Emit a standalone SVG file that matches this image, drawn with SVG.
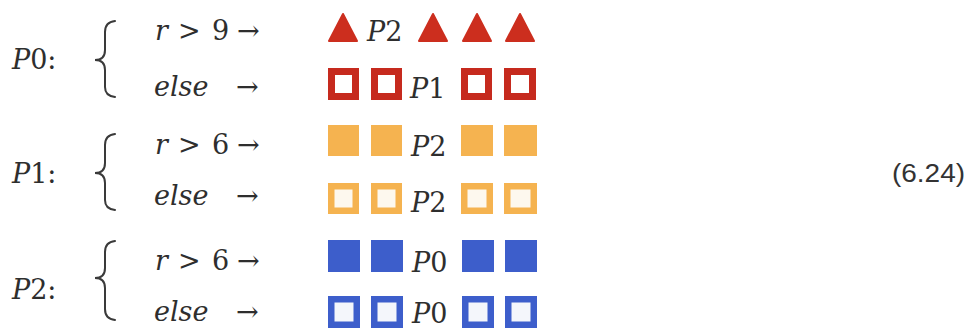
<svg xmlns="http://www.w3.org/2000/svg" width="972" height="330" viewBox="0 0 972 330">
<style>
  .t { font-family: "DejaVu Serif", "Liberation Serif", serif; font-size: 27px; fill: #2e2e2e; }
  .i { font-style: italic; }
  .brace { fill: none; stroke: #3a3a3a; stroke-width: 2; stroke-linecap: round; }
  .tri { fill: #cc2e1e; stroke: #cc2e1e; stroke-width: 2; stroke-linejoin: round; }
  .rs { fill: #c62a1e; }
  .rh { fill: #ffffff; stroke: #c62a1e; stroke-width: 7; }
  .os { fill: #f5b350; }
  .oh { fill: #fdf8ee; stroke: #f5b350; stroke-width: 6.5; }
  .bs { fill: #3d5ecb; }
  .bh { fill: #f4f6fb; stroke: #3d5ecb; stroke-width: 6.5; }
  .eq { font-family: "Liberation Sans", "Open Sans", sans-serif; font-size: 25px; fill: #333; }
</style>
<rect width="972" height="330" fill="#ffffff"/>

<g id="P0">
  <text class="t" x="12" y="69"><tspan class="i">P</tspan>0:</text>
  <path class="brace" d="M115,21 Q105,22 105,32 L105,50 Q105,60 95,60 Q105,60 105,70 L105,87 Q105,96 115,97"/>
  <text class="t" y="40"><tspan class="i" x="155">r</tspan><tspan x="178">&gt;</tspan><tspan x="212">9</tspan><tspan x="237">→</tspan></text>
  <text class="t" y="96"><tspan class="i" x="154">else</tspan><tspan x="236">→</tspan></text>
  <g id="row-P0-r9">
    <polygon class="tri" points="329,41 343,14 357,41"/>
    <text class="t i" x="367" y="41">P<tspan font-style="normal">2</tspan></text>
    <polygon class="tri" points="419,41 433,14 447,41"/>
    <polygon class="tri" points="463,41 477,14 491,41"/>
    <polygon class="tri" points="506,41 520,14 534,41"/>
  </g>
  <g id="row-P0-else">
    <rect class="rh" x="331.5" y="71.5" width="24" height="25"/>
    <rect class="rh" x="374.5" y="71.5" width="24" height="25"/>
    <text class="t i" x="410" y="98">P<tspan font-style="normal">1</tspan></text>
    <rect class="rh" x="464.5" y="71.5" width="24" height="25"/>
    <rect class="rh" x="507.5" y="71.5" width="25" height="25"/>
  </g>
</g>

<g id="P1">
  <text class="t" x="12" y="183"><tspan class="i">P</tspan>1:</text>
  <path class="brace" d="M115,134 Q105,135 105,145 L105,163 Q105,173 95,173 Q105,173 105,183 L105,200 Q105,209 115,210"/>
  <text class="t" y="154"><tspan class="i" x="155">r</tspan><tspan x="178">&gt;</tspan><tspan x="212">6</tspan><tspan x="237">→</tspan></text>
  <text class="t" y="205"><tspan class="i" x="154">else</tspan><tspan x="236">→</tspan></text>
  <g id="row-P1-r6">
    <rect class="os" x="328" y="125" width="31" height="31"/>
    <rect class="os" x="371" y="125" width="31" height="31"/>
    <text class="t i" x="411" y="156">P<tspan font-style="normal">2</tspan></text>
    <rect class="os" x="461" y="125" width="32" height="31"/>
    <rect class="os" x="504" y="125" width="33" height="31"/>
  </g>
  <g id="row-P1-else">
    <rect class="oh" x="331.25" y="186.25" width="24.5" height="24.5"/>
    <rect class="oh" x="374.25" y="186.25" width="24.5" height="24.5"/>
    <text class="t i" x="411" y="212">P<tspan font-style="normal">2</tspan></text>
    <rect class="oh" x="464.25" y="186.25" width="25.5" height="24.5"/>
    <rect class="oh" x="507.25" y="186.25" width="26.5" height="24.5"/>
  </g>
</g>

<g id="P2">
  <text class="t" x="12" y="299"><tspan class="i">P</tspan>2:</text>
  <path class="brace" d="M115,241 Q105,242 105,252 L105,268 Q105,278 95,278 Q105,278 105,288 L105,309 Q105,319 115,320"/>
  <text class="t" y="270"><tspan class="i" x="155">r</tspan><tspan x="178">&gt;</tspan><tspan x="212">6</tspan><tspan x="237">→</tspan></text>
  <text class="t" y="321"><tspan class="i" x="154">else</tspan><tspan x="236">→</tspan></text>
  <g id="row-P2-r6">
    <rect class="bs" x="328" y="240" width="32" height="32"/>
    <rect class="bs" x="371" y="240" width="32" height="32"/>
    <text class="t i" x="412" y="272">P<tspan font-style="normal">0</tspan></text>
    <rect class="bs" x="462" y="240" width="32" height="32"/>
    <rect class="bs" x="505" y="240" width="32" height="32"/>
  </g>
  <g id="row-P2-else">
    <rect class="bh" x="331.25" y="299.25" width="25.5" height="25.5"/>
    <rect class="bh" x="374.25" y="299.25" width="25.5" height="25.5"/>
    <text class="t i" x="412" y="323">P<tspan font-style="normal">0</tspan></text>
    <rect class="bh" x="465.25" y="299.25" width="25.5" height="25.5"/>
    <rect class="bh" x="508.25" y="299.25" width="25.5" height="25.5"/>
  </g>
</g>

<g id="connectors"></g>

<text class="eq" x="892" y="182" textLength="73" lengthAdjust="spacingAndGlyphs">(6.24)</text>
</svg>
